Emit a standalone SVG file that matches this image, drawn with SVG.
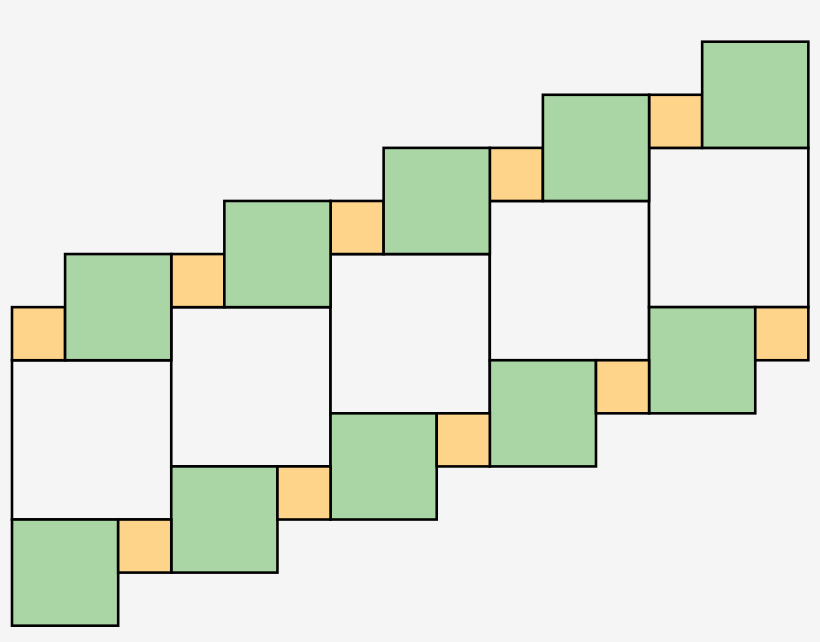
<svg xmlns="http://www.w3.org/2000/svg" width="820" height="642" viewBox="0 0 820 642">
<style>
rect{stroke:#000;stroke-width:2.6;stroke-linejoin:miter}
.w{fill:#f5f5f5}
.g{fill:#aad5a4}
.o{fill:#fed48a}
</style>
<rect x="0" y="0" width="820" height="642" fill="#f5f5f5" style="stroke:none"/>
<g id="white-squares">
<g id="w0"><rect class="w" x="12" y="360.24" width="159.27" height="159.27"/></g>
<g id="w1"><rect class="w" x="171.27" y="307.15" width="159.27" height="159.27"/></g>
<g id="w2"><rect class="w" x="330.54" y="254.06" width="159.27" height="159.27"/></g>
<g id="w3"><rect class="w" x="489.81" y="200.97" width="159.27" height="159.27"/></g>
<g id="w4"><rect class="w" x="649.08" y="147.88" width="159.27" height="159.27"/></g>
</g>
<g id="upper-orange">
<g id="uo0"><rect class="o" x="12" y="307.15" width="53.09" height="53.09"/></g>
<g id="uo1"><rect class="o" x="171.27" y="254.06" width="53.09" height="53.09"/></g>
<g id="uo2"><rect class="o" x="330.54" y="200.97" width="53.09" height="53.09"/></g>
<g id="uo3"><rect class="o" x="489.81" y="147.88" width="53.09" height="53.09"/></g>
<g id="uo4"><rect class="o" x="649.08" y="94.79" width="53.09" height="53.09"/></g>
</g>
<g id="upper-green">
<g id="ug0"><rect class="g" x="65.09" y="254.06" width="106.18" height="106.18"/></g>
<g id="ug1"><rect class="g" x="224.36" y="200.97" width="106.18" height="106.18"/></g>
<g id="ug2"><rect class="g" x="383.63" y="147.88" width="106.18" height="106.18"/></g>
<g id="ug3"><rect class="g" x="542.9" y="94.79" width="106.18" height="106.18"/></g>
<g id="ug4"><rect class="g" x="702.17" y="41.7" width="106.18" height="106.18"/></g>
</g>
<g id="lower-green">
<g id="lg0"><rect class="g" x="12" y="519.51" width="106.18" height="106.18"/></g>
<g id="lg1"><rect class="g" x="171.27" y="466.42" width="106.18" height="106.18"/></g>
<g id="lg2"><rect class="g" x="330.54" y="413.33" width="106.18" height="106.18"/></g>
<g id="lg3"><rect class="g" x="489.81" y="360.24" width="106.18" height="106.18"/></g>
<g id="lg4"><rect class="g" x="649.08" y="307.15" width="106.18" height="106.18"/></g>
</g>
<g id="lower-orange">
<g id="lo0"><rect class="o" x="118.18" y="519.51" width="53.09" height="53.09"/></g>
<g id="lo1"><rect class="o" x="277.45" y="466.42" width="53.09" height="53.09"/></g>
<g id="lo2"><rect class="o" x="436.72" y="413.33" width="53.09" height="53.09"/></g>
<g id="lo3"><rect class="o" x="595.99" y="360.24" width="53.09" height="53.09"/></g>
<g id="lo4"><rect class="o" x="755.26" y="307.15" width="53.09" height="53.09"/></g>
</g>
</svg>
